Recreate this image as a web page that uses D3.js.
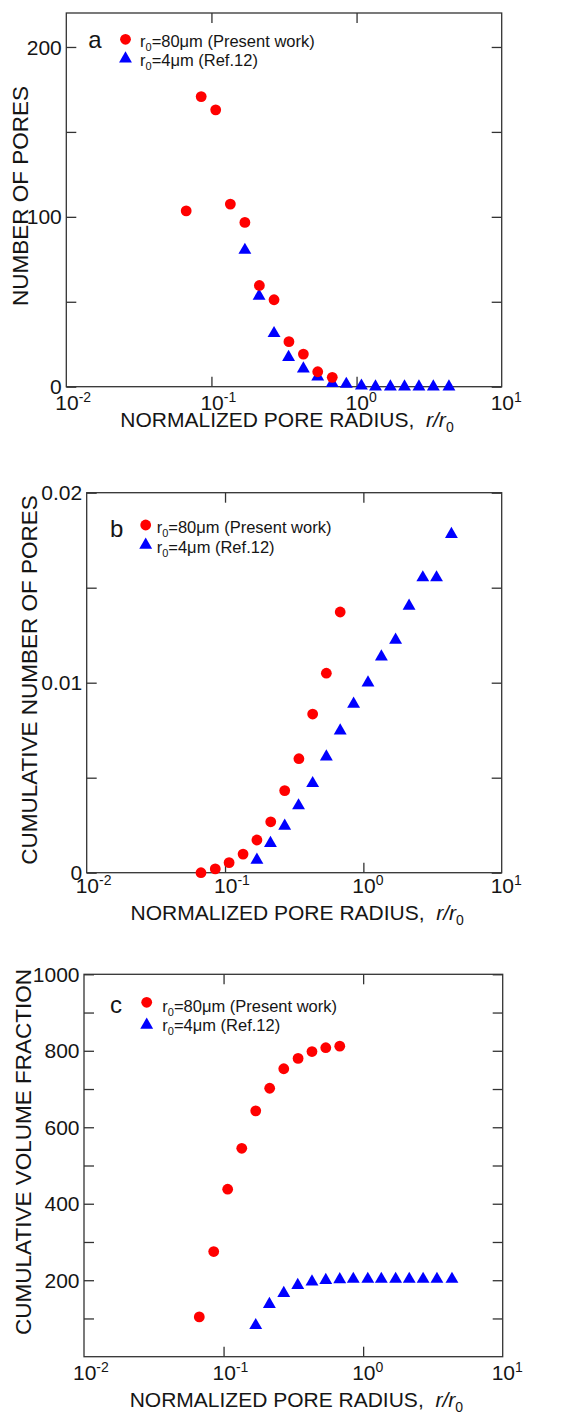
<!DOCTYPE html>
<html>
<head>
<meta charset="utf-8">
<script src="https://cdn.jsdelivr.net/npm/d3@7"></script>
<style>
  body { margin: 0; background: #fff; }
  text { font-family: "Liberation Sans", Arial, sans-serif; fill: #151515; }
</style>
</head>
<body>
<div id="chart"></div>
<script>
// normalized pore radius r/r0 for the two data sets
const xPresent = [0.067, 0.085, 0.107, 0.135, 0.17, 0.214, 0.27, 0.342, 0.43, 0.54, 0.68];
const xRef = [0.17, 0.213, 0.27, 0.34, 0.43, 0.54, 0.68, 0.85, 1.08, 1.35, 1.71, 2.14, 2.69, 3.38, 4.33];

// (a) number of pores
const poresPresent = [103.5, 170.8, 163, 107.5, 96.7, 59.6, 51.2, 26.5, 19.2, 8.8, 5.5];
const poresRef = [80.4, 53.4, 31.4, 17.3, 10.6, 5.9, 2, 1.5, 0.5, 0, 0, 0, 0, 0, 0];

// (b) cumulative number of pores
const cumNumPresent = [0.0000, 0.0002, 0.00053, 0.00098, 0.00172, 0.00268, 0.00432, 0.0060, 0.00835, 0.0105, 0.01372];
const cumNumRef = [0.00067, 0.00155, 0.00246, 0.00353, 0.0047, 0.0061, 0.00747, 0.00888, 0.0100, 0.01137, 0.01225, 0.01404, 0.01553, 0.01553, 0.01781];

// (c) cumulative volume fraction
const cumVolPresent = [104, 275, 438, 545, 643, 702, 753, 780, 798, 808, 812];
const cumVolRef = [82, 137, 166, 187, 196, 200, 202, 203, 203, 203, 203, 203, 203, 203, 203];

const xTickValues = [0.01, 0.1, 1, 10];
const xTickExp = ["-2", "-1", "0", "1"];

const width = 586;
const height = 1414;

const svg = d3.select("#chart")
  .append("svg")
  .attr("width", width)
  .attr("height", height);

const panels = [
  {
    letter: "a", box: { left: 66.3, right: 501.7, top: 13, bottom: 386.7 },
    yDomain: [0, 220], yTicks: [0, 100, 200], yMinor: [50, 150], fmt: d => d,
    yTitle: "NUMBER OF PORES", yTitleX: 20, yTitleY: 196,
    tickLabelDy: 23.3, titleDy: 40,
    present: poresPresent, ref: poresRef,
    legend: { lx: 88.3, ly: 48.3, sx: 125.5, cy: 39.3, ty: 58.8, tx: 140, t1: 46.7, t2: 66 }
  },
  {
    letter: "b", box: { left: 86.7, right: 501.7, top: 492.7, bottom: 872.7 },
    yDomain: [0, 0.02], yTicks: [0, 0.01, 0.02], yMinor: [0.005, 0.015], fmt: d => d === 0 ? "0" : d.toFixed(2),
    yTitle: "CUMULATIVE NUMBER OF PORES", yTitleX: 29, yTitleY: 680,
    tickLabelDy: 20.5, titleDy: 47,
    present: cumNumPresent, ref: cumNumRef,
    legend: { lx: 110, ly: 536.7, sx: 145.7, cy: 525, ty: 545, tx: 156.7, t1: 533.3, t2: 552.7 }
  },
  {
    letter: "c", box: { left: 84, right: 502.7, top: 974.3, bottom: 1356.7 },
    yDomain: [0, 1000], yTicks: [200, 400, 600, 800, 1000], yMinor: [100, 300, 500, 700, 900], fmt: d => d,
    yTitle: "CUMULATIVE VOLUME FRACTION", yTitleX: 23, yTitleY: 1152,
    tickLabelDy: 23.3, titleDy: 50,
    present: cumVolPresent, ref: cumVolRef,
    legend: { lx: 110, ly: 1013.3, sx: 146.7, cy: 1002.3, ty: 1025, tx: 162.3, t1: 1011.7, t2: 1031 }
  }
];

const tri = d3.symbol().type(d3.symbolTriangle).size(72);

panels.forEach(p => {
  const b = p.box;
  const x = d3.scaleLog().domain([0.01, 10]).range([b.left, b.right]);
  const y = d3.scaleLinear().domain(p.yDomain).range([b.bottom, b.top]);

  const g = svg.append("g");

  // ticks, all pointing inwards
  const tickStyle = sel => {
    sel.select(".domain").remove();
    sel.selectAll("line").attr("stroke", "#333").attr("stroke-width", 1.3);
    sel.selectAll("text").remove();
  };
  g.append("g").attr("transform", `translate(${b.left},0)`)
    .call(d3.axisLeft(y).tickValues(p.yTicks.concat(p.yMinor)).tickSize(-10)).call(tickStyle);
  g.append("g").attr("transform", `translate(${b.right},0)`)
    .call(d3.axisRight(y).tickValues(p.yTicks.concat(p.yMinor)).tickSize(-10)).call(tickStyle);
  g.append("g").attr("transform", `translate(0,${b.bottom})`)
    .call(d3.axisBottom(x).tickValues([0.1, 1]).tickSize(-10)).call(tickStyle);
  g.append("g").attr("transform", `translate(0,${b.top})`)
    .call(d3.axisTop(x).tickValues([0.1, 1]).tickSize(-10)).call(tickStyle);

  // frame
  g.append("rect")
    .attr("x", b.left).attr("y", b.top)
    .attr("width", b.right - b.left).attr("height", b.bottom - b.top)
    .attr("fill", "none").attr("stroke", "#333").attr("stroke-width", 1.3);

  // y tick labels
  g.selectAll(".ylab").data(p.yTicks).join("text")
    .attr("x", b.left - 4.5)
    .attr("y", d => y(d))
    .attr("dy", "0.36em")
    .attr("text-anchor", "end")
    .attr("font-size", 21)
    .text(p.fmt);

  // x tick labels 10^n
  xTickValues.forEach((v, i) => {
    const t = g.append("text")
      .attr("x", x(v) - 11)
      .attr("y", b.bottom + p.tickLabelDy)
      .attr("font-size", 21);
    t.append("tspan").text("10");
    t.append("tspan").attr("font-size", 14).attr("dy", -8).text(xTickExp[i]);
  });

  // x title
  const xt = g.append("text")
    .attr("x", (b.left + b.right) / 2 + 3)
    .attr("y", b.bottom + p.titleDy)
    .attr("text-anchor", "middle")
    .attr("font-size", 21);
  xt.append("tspan").text("NORMALIZED PORE RADIUS,\u00a0\u00a0");
  xt.append("tspan").attr("font-style", "italic").text("r/r");
  xt.append("tspan").attr("font-size", 14).attr("dy", 5).text("0");

  // y title
  g.append("text")
    .attr("transform", `translate(${p.yTitleX},${p.yTitleY}) rotate(-90)`)
    .attr("text-anchor", "middle")
    .attr("dy", "0.36em")
    .attr("font-size", 22.5)
    .text(p.yTitle);

  // data points
  g.selectAll(".ref").data(xRef.map((d, i) => [d, p.ref[i]])).join("path")
    .attr("d", tri)
    .attr("transform", d => `translate(${x(d[0])},${y(d[1])})`)
    .attr("fill", "#0000ff");
  g.selectAll(".present").data(xPresent.map((d, i) => [d, p.present[i]])).join("circle")
    .attr("cx", d => x(d[0]))
    .attr("cy", d => y(d[1]))
    .attr("r", 5.4)
    .attr("fill", "#ff0000");

  // panel letter and legend
  const L = p.legend;
  g.append("text").attr("x", L.lx).attr("y", L.ly).attr("font-size", 24).text(p.letter);
  g.append("circle").attr("cx", L.sx).attr("cy", L.cy).attr("r", 5.4).attr("fill", "#ff0000");
  g.append("path").attr("d", tri).attr("transform", `translate(${L.sx},${L.ty})`).attr("fill", "#0000ff");

  const l1 = g.append("text").attr("x", L.tx).attr("y", L.t1).attr("font-size", 16.5);
  l1.append("tspan").text("r");
  l1.append("tspan").attr("font-size", 11).attr("dy", 4).text("0");
  l1.append("tspan").attr("dy", -4).text("=80μm (Present work)");

  const l2 = g.append("text").attr("x", L.tx).attr("y", L.t2).attr("font-size", 16.5);
  l2.append("tspan").text("r");
  l2.append("tspan").attr("font-size", 11).attr("dy", 4).text("0");
  l2.append("tspan").attr("dy", -4).text("=4μm (Ref.12)");
});
</script>
</body>
</html>
